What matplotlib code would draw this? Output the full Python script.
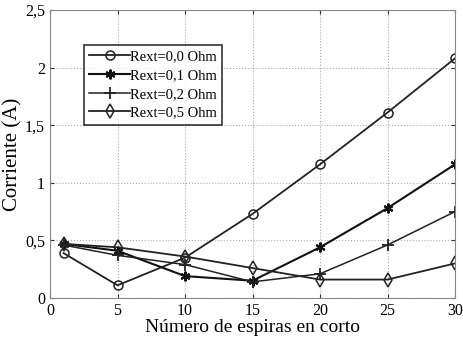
import matplotlib
matplotlib.use("Agg")
import matplotlib.pyplot as plt
from matplotlib.ticker import FuncFormatter

x = [1, 5, 10, 15, 20, 25, 30]
r00 = [0.39, 0.11, 0.35, 0.73, 1.16, 1.61, 2.08]
r01 = [0.47, 0.41, 0.19, 0.15, 0.44, 0.78, 1.16]
r02 = [0.46, 0.37, 0.29, 0.14, 0.21, 0.46, 0.75]
r05 = [0.47, 0.44, 0.36, 0.26, 0.16, 0.16, 0.30]
labels = ["Rext=0,0 Ohm", "Rext=0,1 Ohm", "Rext=0,2 Ohm", "Rext=0,5 Ohm"]
xticks = [0, 5, 10, 15, 20, 25, 30]
yticks = [0, 0.5, 1, 1.5, 2, 2.5]

plt.rcParams['font.family'] = ['Liberation Serif', 'DejaVu Serif']

fig = plt.figure(figsize=(4.63, 3.43), dpi=100)
ax = fig.add_axes([50/463, 1-298/343, 405/463, 288/343])

ax.plot(x, r00, '-', color='#222222', lw=1.3, marker='o', ms=6.5, mfc='none', mec='#222222', mew=1.1, label=labels[0])
ax.plot(x, r01, '-', color='#111111', lw=1.5, marker=(6, 2, 0), ms=7, mec='#111111', mew=1.5, label=labels[1])
ax.plot(x, r02, '-', color='#222222', lw=1.1, marker='+', ms=8, mec='#222222', mew=1.3, label=labels[2])
ax.plot(x, r05, '-', color='#222222', lw=1.3, marker='d', ms=7, mfc='none', mec='#222222', mew=1.1, label=labels[3])

ax.set_xlim(0, 30)
ax.set_ylim(0, 2.5)
ax.set_xticks(xticks)
ax.set_yticks(yticks)
fmt = FuncFormatter(lambda v, p: ('%g' % v).replace('.', ','))
ax.yaxis.set_major_formatter(fmt)
ax.grid(True, linestyle=':', color='#aaaaaa', lw=0.8)
ax.tick_params(direction='in', labelsize=11.5, length=3, top=True, right=True, colors='#333333', labelcolor='black')
for s in ax.spines.values():
    s.set_color('#888888')

ax.set_xlabel('Número de espiras en corto', fontsize=14, labelpad=0)
ax.set_ylabel('Corriente (A)', fontsize=15, labelpad=2)

leg = ax.legend(loc='upper left', bbox_to_anchor=(34/405, 1-35/288), fontsize=10.5,
                frameon=True, fancybox=False, edgecolor='black', handlelength=2.8,
                handletextpad=0.0, borderpad=0.35, labelspacing=0.38, borderaxespad=0)
leg.get_frame().set_linewidth(1.2)

fig.savefig('out.png', dpi=100)
